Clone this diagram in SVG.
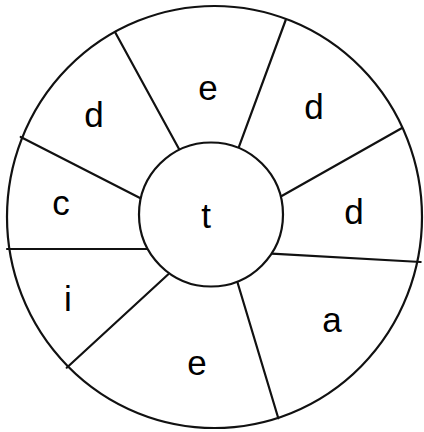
<svg xmlns="http://www.w3.org/2000/svg" width="424" height="432" viewBox="0 0 424 432">
<style>
.ln{fill:none;stroke:#111;stroke-width:2.2;stroke-linecap:round}
.sh{fill:#fff;stroke:#111;stroke-width:2.2}
.lb{font-family:"Liberation Sans",Arial,sans-serif;font-size:35px;fill:#000;text-anchor:middle}
</style>
<rect width="424" height="432" fill="#fff"/>
<g id="outer"><ellipse class="sh" cx="214.5" cy="217" rx="207.5" ry="211"/></g>
<g id="spokes">
<line class="ln" x1="115" y1="32" x2="179" y2="149"/>
<line class="ln" x1="285.7" y1="20" x2="239" y2="146.7"/>
<line class="ln" x1="402" y1="128" x2="281.7" y2="196"/>
<line class="ln" x1="20.7" y1="137" x2="140" y2="198"/>
<line class="ln" x1="7" y1="249" x2="146.7" y2="249"/>
<line class="ln" x1="66.7" y1="367.7" x2="168.3" y2="274.3"/>
<line class="ln" x1="278.3" y1="418.3" x2="237.3" y2="281.7"/>
<line class="ln" x1="420.7" y1="262" x2="271.7" y2="253.7"/>
</g>
<g id="center"><circle class="sh" cx="211" cy="214.5" r="72"/><text class="lb" x="206" y="228">t</text></g>
<g id="s-e-top"><text class="lb" x="208" y="100">e</text></g>
<g id="s-d-upleft"><text class="lb" x="94" y="127">d</text></g>
<g id="s-d-upright"><text class="lb" x="314" y="119">d</text></g>
<g id="s-c"><text class="lb" x="61" y="215">c</text></g>
<g id="s-d-right"><text class="lb" x="354" y="224">d</text></g>
<g id="s-i"><text class="lb" x="68" y="311">i</text></g>
<g id="s-e-bottom"><text class="lb" x="197" y="375">e</text></g>
<g id="s-a"><text class="lb" x="332" y="332">a</text></g>
</svg>
